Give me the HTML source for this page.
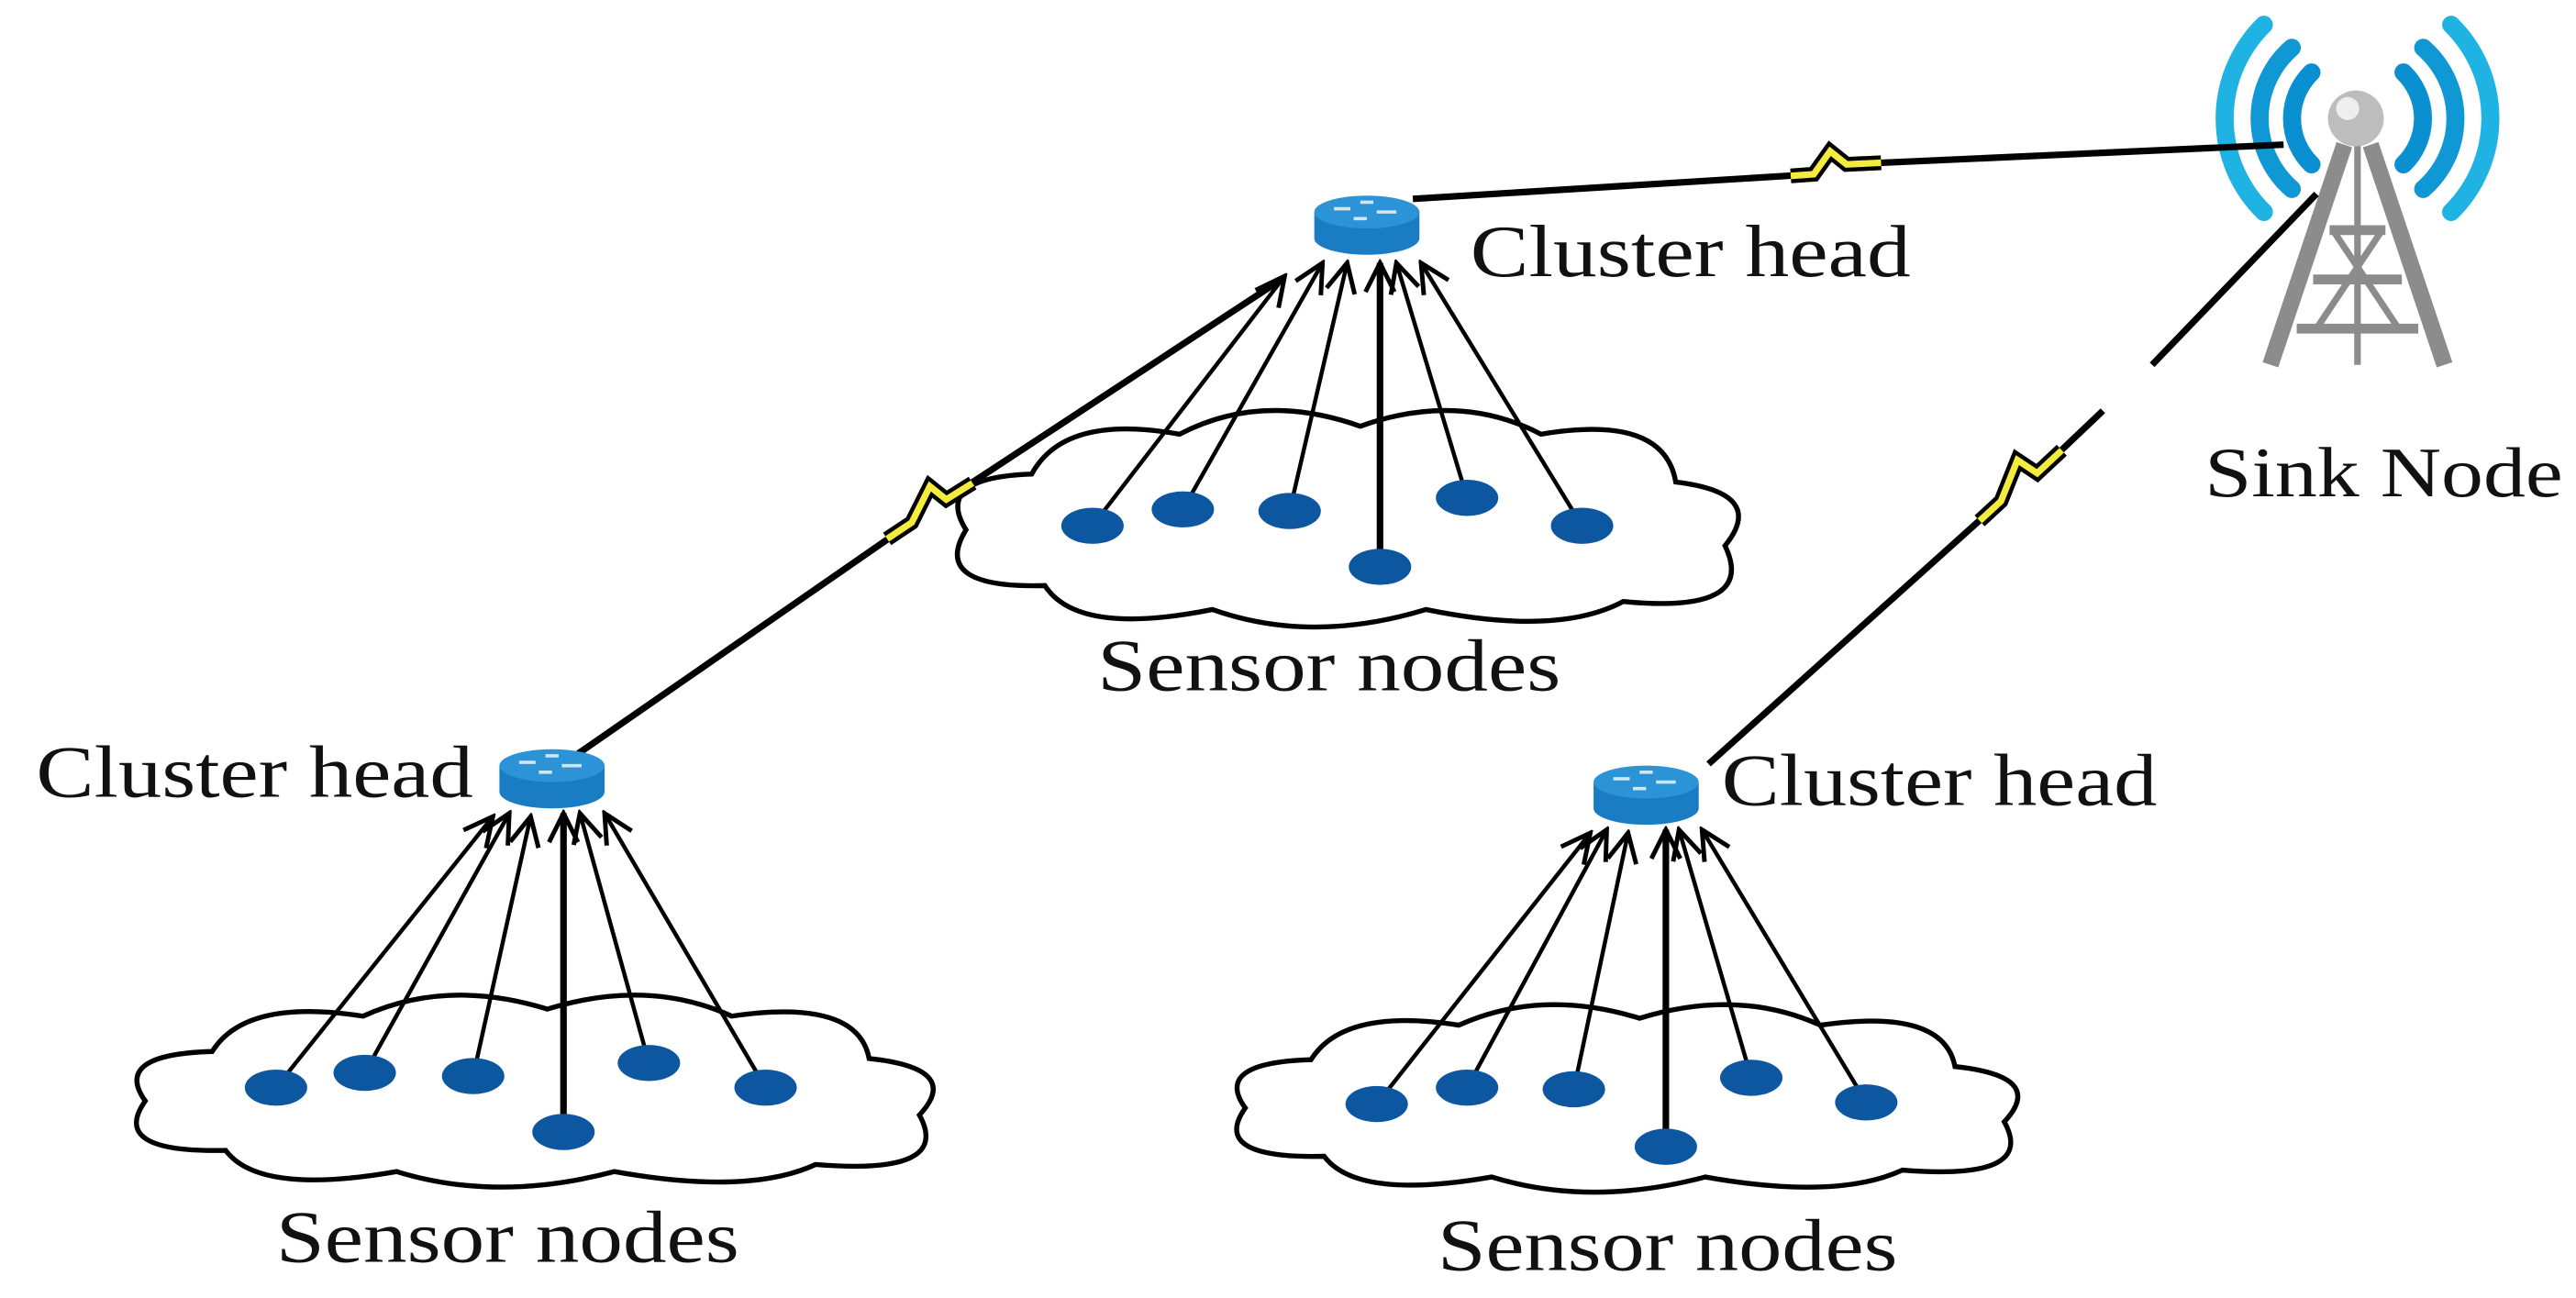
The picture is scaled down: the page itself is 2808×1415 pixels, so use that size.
<!DOCTYPE html>
<html><head><meta charset="utf-8"><style>
html,body{margin:0;padding:0;background:#fff;}
svg{display:block;}
text{font-family:"Liberation Serif",serif;fill:#111;}
</style></head><body>
<svg width="2808" height="1415" viewBox="0 0 1568 790" xmlns="http://www.w3.org/2000/svg">
<defs>
<marker id="ar" viewBox="0 0 20 20" refX="18" refY="10" markerWidth="22" markerHeight="22" markerUnits="userSpaceOnUse" orient="auto">
<path d="M2 2 L18 10 L2 18" fill="none" stroke="#000" stroke-width="2.5"/>
</marker>
<path id="cloud" d="M60 50 Q80 12 150 25 Q200 -2 260 20 Q320 -2 370 25 Q445 12 452 55 Q508 62 482 95 Q502 138 420 130 Q380 152 300 135 Q230 157 170 135 Q88 152 68 120 Q-2 122 20 85 Q0 52 60 50 Z" fill="#fff" stroke="#000" stroke-width="5.4" vector-effect="non-scaling-stroke"/>
<g id="router">
<path d="M-32 -8 L-32 8 A32 10 0 0 0 32 8 L32 -8 Z" fill="#1a7cc2"/>
<ellipse cx="0" cy="-8" rx="32" ry="10" fill="#2b93d6"/>
<path d="M-20 -10 h10 M-4 -14 h8 M6 -8 h12 M-8 -4 h8" stroke="#cfe6f7" stroke-width="2"/>
</g>
</defs>

<use href="#cloud" transform="translate(568,240) scale(1.0,0.97)"/>
<use href="#cloud" transform="translate(68,597) scale(1.02,0.86)"/>
<use href="#cloud" transform="translate(738,603) scale(1.0,0.84)"/>

<g>
<g fill="none" stroke-linecap="round">
<path d="M1407 44 A39 39 0 0 0 1407 100" stroke="#0a8fd0" stroke-width="11"/>
<path d="M1463 44 A39 39 0 0 1 1463 100" stroke="#0a8fd0" stroke-width="11"/>
<path d="M1395 29 A57 57 0 0 0 1395 115" stroke="#0f98d4" stroke-width="11"/>
<path d="M1475 29 A57 57 0 0 1 1475 115" stroke="#0f98d4" stroke-width="11"/>
<path d="M1378 15 A80 80 0 0 0 1378 129" stroke="#1fb3e3" stroke-width="11"/>
<path d="M1492 15 A80 80 0 0 1 1492 129" stroke="#1fb3e3" stroke-width="11"/>
</g>
<g stroke="#8c8c8c" fill="none">
<path d="M1427 88 L1382 222 M1443 88 L1488 222" stroke-width="10"/>
<path d="M1435 88 L1435 222" stroke-width="4"/>
<path d="M1418 140 L1452 140 M1408 170 L1462 170 M1398 200 L1472 200" stroke-width="6"/>
<path d="M1420 140 L1460 200 M1450 140 L1410 200" stroke-width="4"/>
</g>
<circle cx="1434" cy="72" r="17" fill="#bdbdbd"/>
<circle cx="1429" cy="66" r="7" fill="#eee"/>
</g>

<g stroke="#000" stroke-width="4" fill="none">
<path d="M860 121 L1104 106 L1114 92 L1124 100 L1390 88"/>
<path d="M350 460 L555 318 L566 296 L576 304 L780 170"/>
<path d="M1040 465 L1218 305 L1228 280 L1240 288 L1280 250"/>
<path d="M1310 222 L1410 118"/>
</g>
<g stroke="#000" stroke-width="9" fill="none">
<path d="M1090 107 L1104 106 L1114 92 L1124 100 L1145 99"/>
<path d="M540 328 L555 318 L566 296 L576 304 L592 294"/>
<path d="M1205 317 L1218 305 L1228 280 L1240 288 L1255 274"/>
</g>
<g stroke="#f3ec3c" stroke-width="4" fill="none">
<path d="M1090 107 L1104 106 L1114 92 L1124 100 L1145 99"/>
<path d="M540 328 L555 318 L566 296 L576 304 L592 294"/>
<path d="M1205 317 L1218 305 L1228 280 L1240 288 L1255 274"/>
</g>

<use href="#router" transform="translate(832,137)"/>
<use href="#router" transform="translate(336,474)"/>
<use href="#router" transform="translate(1002,484)"/>

<g stroke="#000" stroke-width="2.5" marker-end="url(#ar)">
<line x1="665" y1="320" x2="782" y2="168"/>
<line x1="720" y1="310" x2="805" y2="160"/>
<line x1="785" y1="311" x2="820" y2="160"/>
<line x1="840" y1="345" x2="840" y2="160" stroke-width="4"/>
<line x1="893" y1="303" x2="850" y2="160"/>
<line x1="963" y1="320" x2="865" y2="160"/>
<line x1="168" y1="662" x2="300" y2="497"/>
<line x1="222" y1="653" x2="310" y2="495"/>
<line x1="288" y1="655" x2="323" y2="497"/>
<line x1="343" y1="689" x2="343" y2="495" stroke-width="4"/>
<line x1="395" y1="647" x2="353" y2="495"/>
<line x1="466" y1="662" x2="368" y2="495"/>
<line x1="838" y1="672" x2="968" y2="507"/>
<line x1="893" y1="662" x2="978" y2="505"/>
<line x1="958" y1="663" x2="991" y2="507"/>
<line x1="1014" y1="698" x2="1014" y2="505" stroke-width="4"/>
<line x1="1066" y1="656" x2="1022" y2="505"/>
<line x1="1136" y1="671" x2="1036" y2="505"/>
</g>

<g fill="#0d57a0">
<ellipse cx="665" cy="320" rx="19" ry="11"/><ellipse cx="720" cy="310" rx="19" ry="11"/><ellipse cx="785" cy="311" rx="19" ry="11"/><ellipse cx="840" cy="345" rx="19" ry="11"/><ellipse cx="893" cy="303" rx="19" ry="11"/><ellipse cx="963" cy="320" rx="19" ry="11"/>
<ellipse cx="168" cy="662" rx="19" ry="11"/><ellipse cx="222" cy="653" rx="19" ry="11"/><ellipse cx="288" cy="655" rx="19" ry="11"/><ellipse cx="343" cy="689" rx="19" ry="11"/><ellipse cx="395" cy="647" rx="19" ry="11"/><ellipse cx="466" cy="662" rx="19" ry="11"/>
<ellipse cx="838" cy="672" rx="19" ry="11"/><ellipse cx="893" cy="662" rx="19" ry="11"/><ellipse cx="958" cy="663" rx="19" ry="11"/><ellipse cx="1014" cy="698" rx="19" ry="11"/><ellipse cx="1066" cy="656" rx="19" ry="11"/><ellipse cx="1136" cy="671" rx="19" ry="11"/>
</g>

<g font-size="45">
<text x="895" y="168" textLength="268" lengthAdjust="spacingAndGlyphs">Cluster head</text>
<text x="22" y="485" textLength="266" lengthAdjust="spacingAndGlyphs">Cluster head</text>
<text x="1048" y="490" textLength="265" lengthAdjust="spacingAndGlyphs">Cluster head</text>
<text x="668" y="420" textLength="282" lengthAdjust="spacingAndGlyphs">Sensor nodes</text>
<text x="168" y="768" textLength="282" lengthAdjust="spacingAndGlyphs">Sensor nodes</text>
<text x="875" y="773" textLength="280" lengthAdjust="spacingAndGlyphs">Sensor nodes</text>
<text x="1342" y="302" font-size="43" textLength="218" lengthAdjust="spacingAndGlyphs">Sink Node</text>
</g>
</svg>
</body></html>
